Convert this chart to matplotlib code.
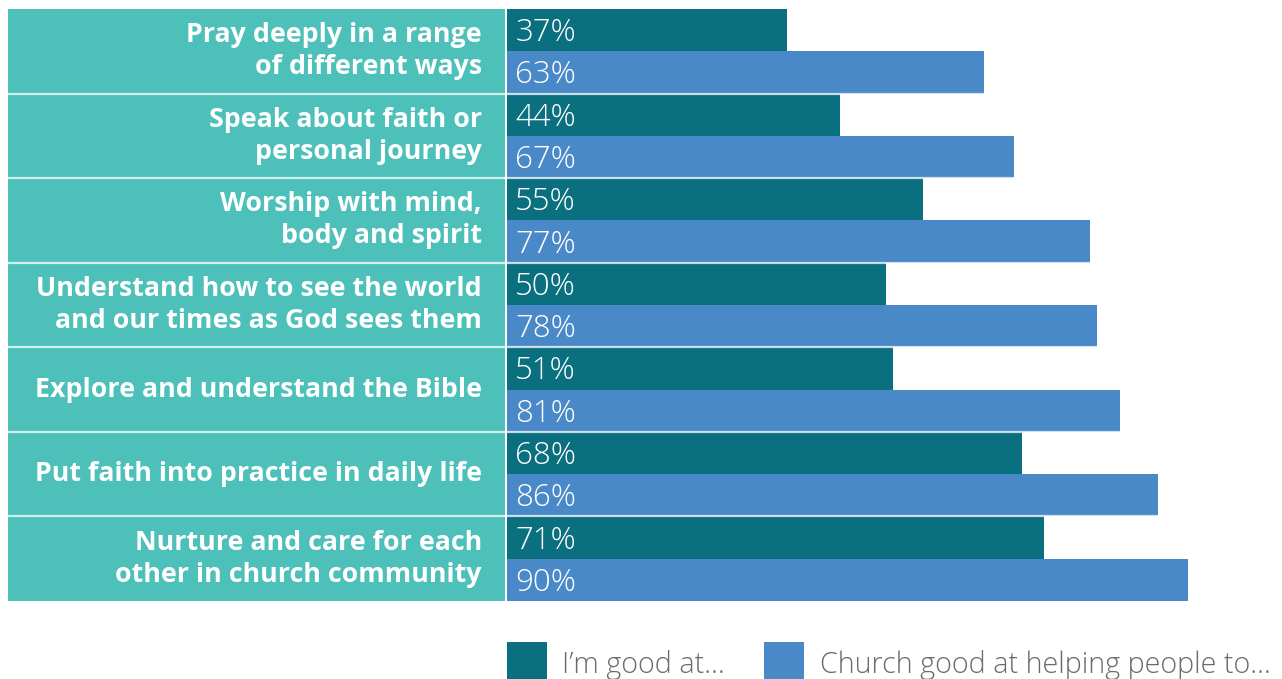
import matplotlib
matplotlib.use("Agg")
import matplotlib.pyplot as plt
from matplotlib.patches import Rectangle

categories = [
    "Pray deeply in a range\nof different ways",
    "Speak about faith or\npersonal journey",
    "Worship with mind,\nbody and spirit",
    "Understand how to see the world\nand our times as God sees them",
    "Explore and understand the Bible",
    "Put faith into practice in daily life",
    "Nurture and care for each\nother in church community",
]
im_good_at = [37, 44, 55, 50, 51, 68, 71]
church_good_at = [63, 67, 77, 78, 81, 86, 90]
series_names = ["I\u2019m good at\u2026", "Church good at helping people to\u2026"]

DARK = "#0a6f7e"
BLUE = "#4a89c8"
PANEL = "#4cc0b9"
GREY = "#6b6b6b"

W, H = 1282, 679
fig = plt.figure(figsize=(W / 100, H / 100), dpi=100)
fig.patch.set_facecolor("white")

# axes spans label panel + bar area; 0% sits at x=507px, 100% at 1264px
ax_left, ax_right, ax_top, ax_bot = 8, 1264, 9, 601
ax = fig.add_axes([ax_left / W, 1 - ax_bot / H, (ax_right - ax_left) / W, (ax_bot - ax_top) / H])
px_per_unit = (ax_right - 507) / 100
xmin = -(507 - ax_left) / px_per_unit
ax.set_xlim(xmin, 100)
ax.set_ylim(len(categories), 0)
ax.axis("off")

n = len(categories)
ys = list(range(n))

# label panel
ax.barh([y + 0.5 for y in ys], [-xmin - 0.25] * n, left=xmin, height=1.0,
        color=PANEL, linewidth=0)
ax.barh([y + 0.25 for y in ys], im_good_at, height=0.5, color=DARK, linewidth=0)
ax.barh([y + 0.75 for y in ys], church_good_at, height=0.5, color=BLUE, linewidth=0)

# separators between groups
for y in range(1, n):
    ax.axhline(y, color="white", alpha=0.75, lw=1.6)

label_x = (482 - 507) / px_per_unit
val_x = (576 - 507) / px_per_unit
val_dy = 0.035
for i, cat in enumerate(categories):
    ax.text(label_x, i + 0.5, cat, ha="right", va="center", color="white",
            fontsize=19.3, fontweight="bold", family="Open Sans", linespacing=1.3)
    ax.text(val_x, i + 0.25 + val_dy, f"{im_good_at[i]}%", ha="right", va="center",
            color="white", fontsize=22.5, fontweight="light", family="Open Sans")
    ax.text(val_x, i + 0.75 + val_dy, f"{church_good_at[i]}%", ha="right", va="center",
            color="white", fontsize=22.5, fontweight="light", family="Open Sans")

# legend drawn in pixel coordinates
def px_rect(x0, y0, w, h, color):
    fig.patches.append(Rectangle((x0 / W, 1 - (y0 + h) / H), w / W, h / H,
                                 transform=fig.transFigure, color=color, lw=0))

px_rect(507, 642, 40, 40, DARK)
px_rect(764, 642, 40, 40, BLUE)
fig.text(562 / W, 1 - 665 / H, series_names[0], ha="left", va="center", color=GREY,
         fontsize=20.7, fontweight="light", family="Open Sans")
fig.text(820 / W, 1 - 665 / H, series_names[1], ha="left", va="center", color=GREY,
         fontsize=20.7, fontweight="light", family="Open Sans")

fig.savefig("out.png", dpi=100, facecolor="white")
